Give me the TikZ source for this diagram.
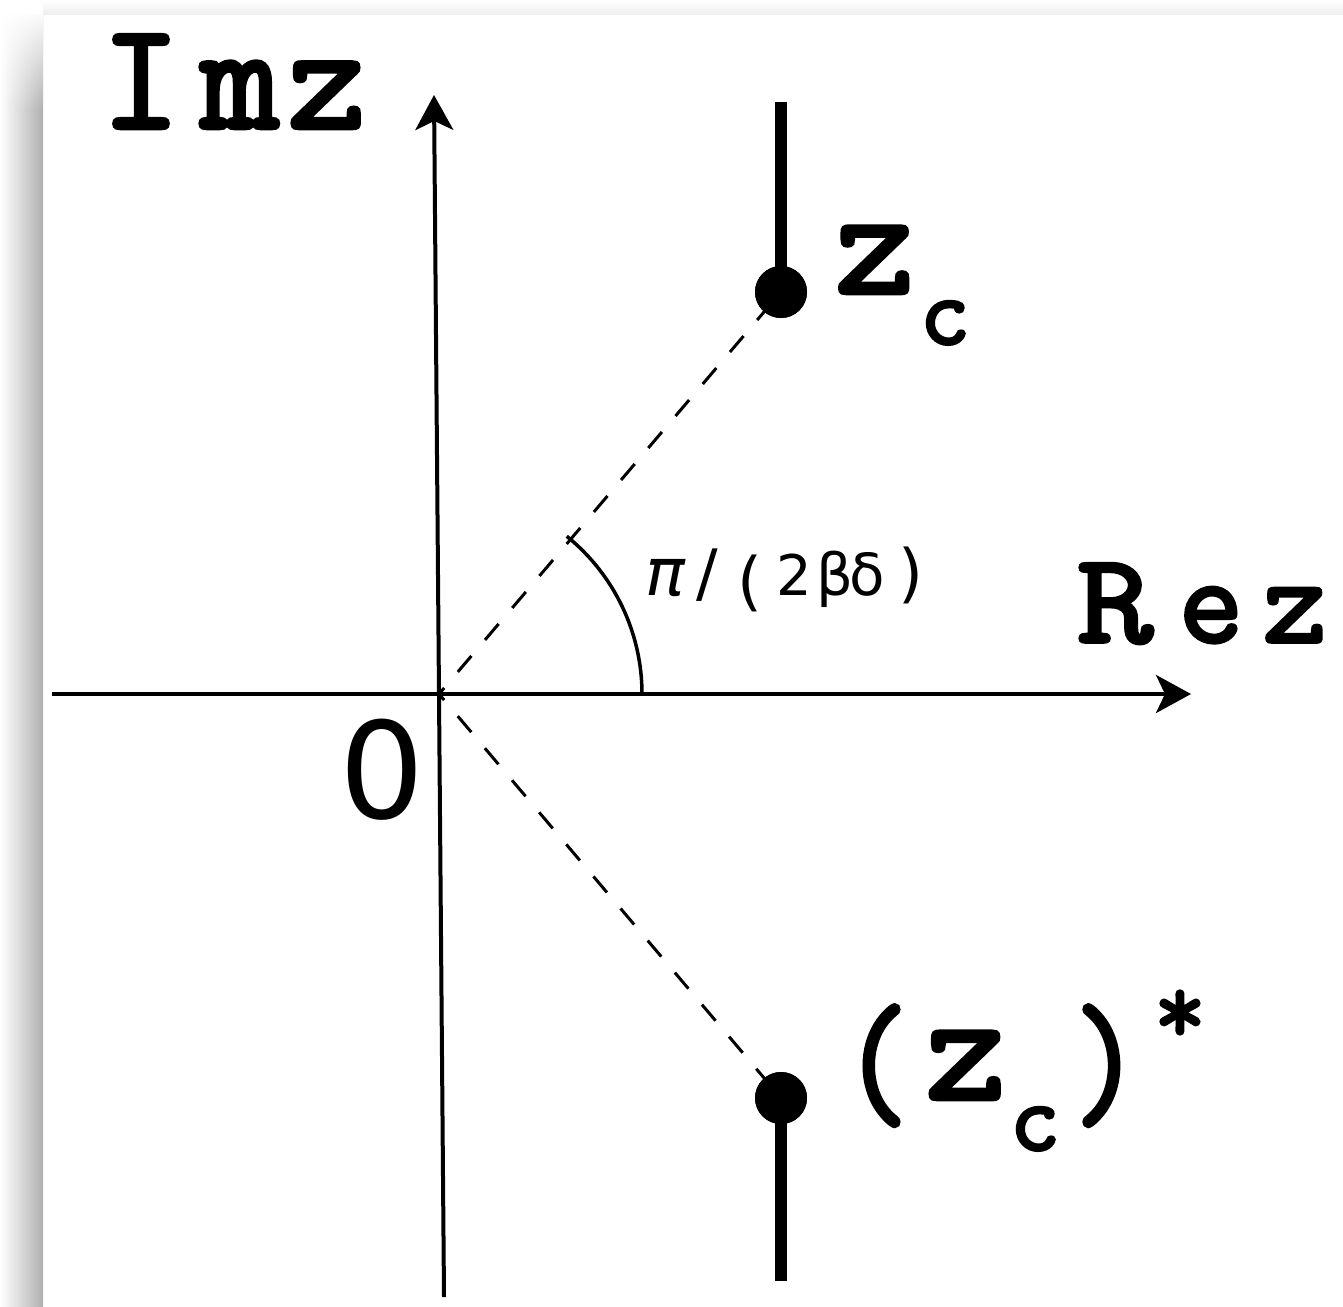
\documentclass[tikz,border=0pt]{standalone}
\usepackage{fontspec}
\setmainfont{DejaVu Sans}
\newfontfamily\monob{Latin Modern Mono}[FakeBold=3]
\usetikzlibrary{arrows.meta,fadings}
\tikzset{
  axisline/.style={line width=4pt,-{Stealth[length=35pt,width=38pt,inset=9pt]}},
  dashline/.style={line width=3pt,dash pattern=on 21pt off 21pt,dash phase=13pt},
  stem/.style={line width=12pt},
  dot/.style={circle,fill=black,minimum size=52pt,inner sep=0pt},
  mono/.style={inner sep=0pt,anchor=base,font=\monob\fontsize{#1pt}{#1pt}\selectfont},
  sans/.style={inner sep=0pt,anchor=base,font=\fontsize{#1pt}{#1pt}\selectfont},
}
\begin{document}
\begin{tikzpicture}[x=1pt,y=-1pt]
\useasboundingbox (0,0) rectangle (1343,1306);
% page shadow
\fill[white] (0,0) rectangle (1343,1306);
\fill[left color=white,right color=gray!62] (0,15) rectangle (43,1306);
\fill[top color=white,bottom color=gray!14] (43,0) rectangle (1343,15);
\fill[white,path fading=south] (0,10) rectangle (43,110);
% axes
\coordinate (O) at (439,694);
\coordinate (xl) at (52,694);
\coordinate (xr) at (1191,694);
\coordinate (yb) at (444,1297);
\coordinate (yt) at (434,95);
\draw[axisline] (xl) -- (xr);
\draw[axisline] (yb) -- (yt);
% points
\node[dot] (zc) at (781,292) {};
\node[dot] (zs) at (781,1098) {};
\coordinate (zctop) at (781,102);
\coordinate (zsbot) at (781,1281);
\draw[dashline] (O) -- (zc.center);
\draw[dashline] (O) -- (zs.center);
\node[dot] at (zc.center) {};
\node[dot] at (zs.center) {};
\draw[stem] (zc.center) -- (zctop);
\draw[stem] (zs.center) -- (zsbot);
% angle arc
\draw[line width=3.5pt] (O) ++(0:203) arc[start angle=0,end angle=-51,radius=203];
% labels
\node[mono=152] (imI) at (141,128) {I};
\node[mono=152] (imm) at (240,128) {m};
\node[mono=152] (imz) at (327,128) {z};
\node[mono=128,xscale=1.15] (reR) at (1115,642) {R};
\node[mono=124] (ree) at (1211,642) {e};
\node[mono=124] (rez) at (1295,642) {z};
\node[mono=154] (zcz) at (875,293) {z};
\node[mono=97] (zcc) at (945,344) {c};
\node[mono=155,xscale=0.85] (zsl) at (876,1113) {(};
\node[mono=156] (zsz) at (966,1099) {z};
\node[mono=97] (zsc) at (1035,1150) {c};
\node[mono=155,xscale=0.85] (zsr) at (1107,1113) {)};
\node[mono=100] (zsa) at (1180,1043) {*};
\node[sans=134] (zero) at (382,818) {0};
\node[sans=66] (lpi) at (665,595) {\itshape π};
\node[sans=64] (lsl) at (707,595) {/};
\node[sans=64] (llp) at (750,603) {(};
\node[sans=56] (l2) at (794,595) {2};
\node[sans=58] (lb) at (835,595) {β};
\node[sans=58] (ld) at (867,595) {δ};
\node[sans=64] (lrp) at (911,595) {)};
\end{tikzpicture}
\end{document}
